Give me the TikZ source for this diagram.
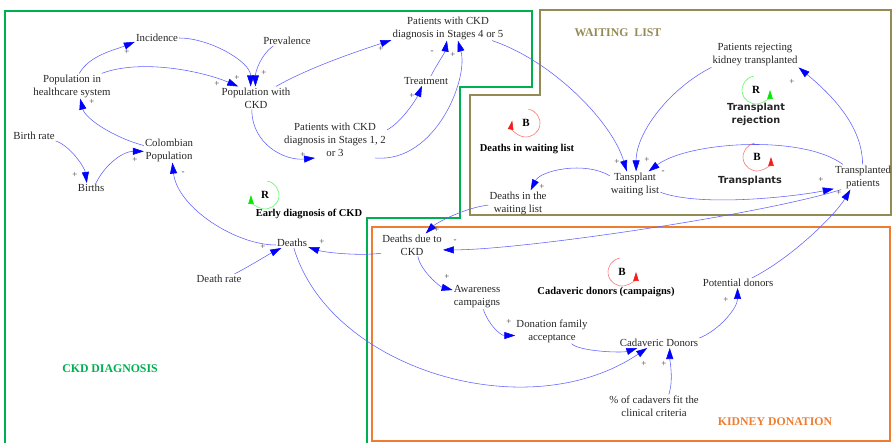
\documentclass[tikz,border=0pt]{standalone}
\usepackage{fontspec}
\setmainfont{Liberation Serif}
\newfontfamily\loopsans{DejaVu Sans}
\usepackage{xcolor}
\usetikzlibrary{arrows.meta}
\definecolor{ckdgreen}{RGB}{0,176,80}
\definecolor{waitolive}{RGB}{148,138,84}
\definecolor{donorange}{RGB}{237,125,49}
\definecolor{linkblue}{RGB}{95,95,255}
\definecolor{loopgreen}{RGB}{0,235,0}
\definecolor{loopred}{RGB}{245,30,30}

\begin{document}
\begin{tikzpicture}[x=1pt,y=-1pt]
        \tikzset{
          var/.style={align=center, inner sep=1pt, font=\fontsize{10.8}{13}\selectfont, text=black!85},
          link/.style={draw=linkblue, line width=0.55pt, -{Triangle[length=11pt,width=7pt,color=blue]}},
          pol/.style={inner sep=0pt, font=\fontsize{9}{9}\selectfont, text=black!75},
          region/.style={line width=2.2pt, line join=miter},
          zone/.style={inner sep=0pt, font=\bfseries\fontsize{11.8}{13}\selectfont},
          loopname/.style={inner sep=0pt, align=center, font=\bfseries\fontsize{10.5}{12}\selectfont},
          loopsansname/.style={inner sep=0pt, align=center, font=\loopsans\bfseries\fontsize{9.7}{13}\selectfont, text=black!85},
          looplet/.style={inner sep=0pt, font=\bfseries\fontsize{11}{12}\selectfont},
          rloop/.style={draw=loopgreen!60, line width=0.6pt, -{Triangle[length=9pt,width=5.5pt,color=loopgreen]}},
          bloop/.style={draw=loopred!60, line width=0.6pt, -{Triangle[length=9pt,width=5.5pt,color=loopred]}}
        }
        \useasboundingbox (0,0) rectangle (893,443);

        % — region borders —
        \draw[region, ckdgreen] (5,445) -- (5,11) -- (532,11) -- (532,87) -- (460,87)
              -- (460,218) -- (367,218) -- (367,445);
        \draw[region, waitolive] (540,10) -- (891,10) -- (891,215) -- (470,215)
              -- (470,95) -- (540,95) -- cycle;
        \draw[region, donorange] (372,227) rectangle (890,441);
        \node[zone, text=waitolive] (zwait) at (618,33) {WAITING\ \ LIST};
        \node[zone, text=ckdgreen]  (zckd)  at (110,369) {CKD DIAGNOSIS};
        \node[zone, text=donorange] (zdon)  at (775,422) {KIDNEY DONATION};

        % — CKD diagnosis variables —
        \node[var] (inc)    at (157,38)  {Incidence};
        \node[var] (pophc)  at (72,86)   {Population in\\healthcare system};
        \node[var] (prev)   at (287,41)  {Prevalence};
        \node[var] (popckd) at (256,98)  {Population with\\CKD};
        \node[var] (st45)   at (448,28)  {Patients with CKD\\diagnosis in Stages 4 or 5};
        \node[var] (treat)  at (426,81)  {Treatment};
        \node[var] (st123)  at (335,140) {Patients with CKD\\diagnosis in Stages 1, 2\\or 3};
        \node[var] (brate)  at (34,136)  {Birth rate};
        \node[var] (births) at (91,188)  {Births};
        \node[var] (colpop) at (169,150) {Colombian\\Population};
        \node[var] (deaths) at (292,243) {Deaths};
        \node[var] (drate)  at (219,279) {Death rate};
        % — waiting list variables —
        \node[var] (reject) at (755,55)  {Patients rejecting\\kidney transplanted};
        \node[var] (waitl)  at (635,184) {Tansplant\\waiting list};
        \node[var] (transp) at (863,177) {Transplanted\\patients};
        \node[var] (dwait)  at (518,203) {Deaths in the\\waiting list};
        % — kidney donation variables —
        \node[var] (dckd)    at (412,245) {Deaths due to\\CKD};
        \node[var] (aware)   at (477,297) {Awareness\\campaigns};
        \node[var] (famacc)  at (552,331) {Donation family\\acceptance};
        \node[var] (cadav)   at (659,343) {Cadaveric Donors};
        \node[var] (fitcrit) at (654,406) {\% of cadavers fit the\\clinical criteria};
        \node[var] (potdon)  at (738,283) {Potential donors};

        % — causal links —
        \draw[link] (pophc.60) .. controls +(10,-18) and +(-20,8) .. (inc.190);
        \draw[link] (inc.east) .. controls +(30,0) and +(0,-25) .. (popckd.115);
        \draw[link] (pophc.23) .. controls +(40,-15) and +(-35,-15) .. (popckd.147);
        \draw[link] (prev.200) .. controls +(-12,8) and +(0,-15) .. (popckd.93);
        \draw[link] (popckd.30) .. controls +(35,-20) and +(-30,10) .. (st45.192);
        \draw[link] (popckd.250) .. controls +(0,35) and +(-30,3) .. (st123.222);
        \draw[link] (st123.11) .. controls +(15,-8) and +(-5,12) .. (treat.230);
        \draw[link] (treat.45) .. controls +(5,-10) and +(-2,12) .. (st45.265);
        \draw[link] (st123.336) .. controls +(60,5) and +(11,38) .. (st45.308);
        \draw[link] (st45.344) .. controls +(60,20) and +(-15,-50) .. (waitl.123);
        \draw[link] (reject.south west) .. controls +(-40,20) and +(0,-40) .. (waitl.85);
        \draw[link] (transp.148) .. controls +(-40,-30) and +(40,-30) .. (waitl.43);
        \draw[link] (waitl.342) .. controls +(40,15) and +(-40,8) .. (transp.202);
        \draw[link] (transp.92) .. controls +(0,-40) and +(30,25) .. (reject.south east);
        \draw[link] (waitl.162) .. controls +(-25,-15) and +(10,-20) .. (dwait.45);
        \draw[link] (dwait.184) .. controls +(-25,3) and +(10,-10) .. (dckd.40);
        \draw[link] (transp.210) .. controls +(-80,25) and +(80,0) .. (dckd.351);
        \draw[link] (dckd.195) .. controls +(-25,3) and +(15,5) .. (deaths.346);
        \draw[link] (drate.18) .. controls +(12,-6) and +(-12,6) .. (deaths.205);
        \draw[link] (deaths.187) .. controls +(-40,0) and +(5,45) .. (colpop.285);
        \draw[link] (deaths.290) .. controls +(36,121) and +(-120,81) .. (cadav.203);
        \draw[link] (dckd.297) .. controls +(3,15) and +(-12,-3) .. (aware.164);
        \draw[link] (aware.297) .. controls +(5,15) and +(-15,0) .. (famacc.187);
        \draw[link] (famacc.327) .. controls +(8,8) and +(-15,5) .. (cadav.193);
        \draw[link] (fitcrit.38) .. controls +(5,-15) and +(0,12) .. (cadav.335);
        \draw[link] (cadav.7) .. controls +(20,-8) and +(0,20) .. (potdon.265);
        \draw[link] (potdon.20) .. controls +(40,-20) and +(-15,25) .. (transp.225);
        \draw[link] (brate.south east) .. controls +(15,5) and +(-2,-15) .. (births.130);
        \draw[link] (births.45) .. controls +(10,-20) and +(-20,0) .. (colpop.183);
        \draw[link] (colpop.170) .. controls +(-30,-8) and +(5,20) .. (pophc.303);

        % — link polarities —
        \node[pol] (s1)  at (127,52)  {+};
        \node[pol] (s2)  at (237,78)  {+};
        \node[pol] (s3)  at (217,84)  {+};
        \node[pol] (s4)  at (264,73)  {+};
        \node[pol] (s5)  at (381,49)  {+};
        \node[pol] (s6)  at (303,155) {+};
        \node[pol] (s7)  at (412,96)  {+};
        \node[pol] (s8)  at (432,52)  {-};
        \node[pol] (s9)  at (453,55)  {+};
        \node[pol] (s10) at (617,162) {+};
        \node[pol] (s11) at (647,160) {+};
        \node[pol] (s12) at (663,172) {-};
        \node[pol] (s13) at (821,180) {+};
        \node[pol] (s14) at (792,82)  {+};
        \node[pol] (s15) at (542,187) {+};
        \node[pol] (s16) at (437,230) {+};
        \node[pol] (s17) at (455,241) {-};
        \node[pol] (s18) at (322,242) {+};
        \node[pol] (s19) at (263,247) {+};
        \node[pol] (s20) at (183,173) {-};
        \node[pol] (s21) at (644,364) {+};
        \node[pol] (s22) at (447,277) {+};
        \node[pol] (s23) at (509,322) {+};
        \node[pol] (s25) at (664,364) {+};
        \node[pol] (s26) at (726,300) {+};
        \node[pol] (s27) at (839,193) {+};
        \node[pol] (s28) at (75,175)  {+};
        \node[pol] (s29) at (135,160) {+};
        \node[pol] (s30) at (92,102)  {+};

        % — feedback loops —
        \node[looplet] (bdw) at (526,123) {B};
        \draw[bloop] (bdw.center) ++(-80:14) arc[start angle=-80, end angle=190, radius=14];
        \node[loopname] (ldw) at (527,149) {Deaths in waiting list};

        \node[looplet] (rearly) at (265,195) {R};
        \draw[rloop] (rearly.center) ++(-80:14) arc[start angle=-80, end angle=180, radius=14];
        \node[loopname] (learly) at (309,214) {Early diagnosis of CKD};

        \node[looplet] (bcamp) at (622,272) {B};
        \draw[bloop] (bcamp.center) ++(-100:14) arc[start angle=-100, end angle=-360, radius=14];
        \node[loopname] (lcamp) at (606,292) {Cadaveric donors (campaigns)};

        \node[looplet] (rrej) at (756,90) {R};
        \draw[rloop] (rrej.center) ++(-100:14) arc[start angle=-100, end angle=-360, radius=14];
        \node[loopsansname] (lrej) at (756,114) {Transplant\\rejection};

        \node[looplet] (btr) at (757,157) {B};
        \draw[bloop] (btr.center) ++(-100:14) arc[start angle=-100, end angle=-360, radius=14];
        \node[loopsansname] (ltr) at (750,181) {Transplants};
\end{tikzpicture}
\end{document}
